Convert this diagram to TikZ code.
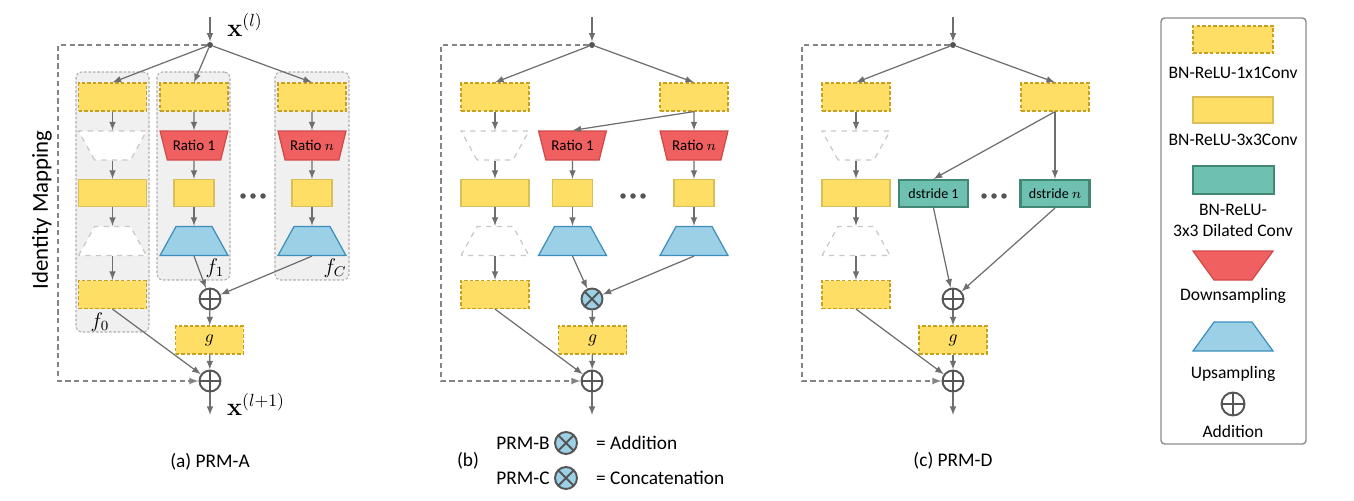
\documentclass[tikz,border=0pt]{standalone}
\usepackage[no-math]{fontspec}
\setmainfont{Carlito}
\usepackage{tikz}
\usetikzlibrary{arrows,shapes.geometric}
\tikzset{>=latex}
\definecolor{convyellow}{RGB}{255,222,102}
\definecolor{convdash}{RGB}{200,160,30}
\definecolor{convline}{RGB}{218,190,90}
\definecolor{downred}{RGB}{240,96,96}
\definecolor{downline}{RGB}{208,72,72}
\definecolor{upblue}{RGB}{155,208,230}
\definecolor{upline}{RGB}{62,142,188}
\definecolor{dilteal}{RGB}{110,192,176}
\definecolor{dilline}{RGB}{66,134,116}
\definecolor{grpfill}{RGB}{240,240,240}
\definecolor{grpline}{RGB}{175,175,175}
\definecolor{ghostline}{RGB}{200,200,200}
\definecolor{linkgray}{RGB}{110,110,110}
\definecolor{opgray}{RGB}{85,85,85}
\definecolor{keyline}{RGB}{140,140,140}
\tikzset{
  link/.style={linkgray, line width=0.7pt},
  idline/.style={linkgray!85, line width=0.8pt, dash pattern=on 3pt off 2pt},
  conv1/.style={draw=convdash, fill=convyellow, dash pattern=on 2pt off 1.2pt, line width=0.7pt, minimum width=1.36cm, minimum height=0.56cm, inner sep=0pt},
  conv3/.style={draw=convline, fill=convyellow, line width=0.7pt, minimum width=1.36cm, minimum height=0.54cm, inner sep=0pt},
  conv3s/.style={conv3, minimum width=0.8cm},
  dilconv/.style={draw=dilline, fill=dilteal, line width=1.2pt, minimum width=1.38cm, minimum height=0.54cm, inner sep=0pt, font=\fontsize{8}{10}\selectfont},
  trap/.style={trapezium, trapezium stretches=true, minimum width=1.36cm, minimum height=0.58cm, inner sep=1pt, line width=0.7pt, font=\fontsize{8.5}{10}\selectfont},
  downtrap/.style={trap, trapezium left angle=114, trapezium right angle=114, draw=downline, fill=downred},
  uptrap/.style={trap, trapezium left angle=66, trapezium right angle=66, draw=upline, fill=upblue},
  ghostdown/.style={downtrap, draw=ghostline, fill=white, dashed},
  ghostup/.style={uptrap, draw=ghostline, fill=white, dashed},
  grpbox/.style={draw=grpline, fill=grpfill, dash pattern=on 1.5pt off 1pt, rounded corners=3pt, line width=0.6pt},
  plusop/.style={circle, draw=opgray, line width=1.1pt, minimum size=0.42cm, inner sep=0pt,
    path picture={\draw[opgray, line width=1.1pt] (path picture bounding box.north) -- (path picture bounding box.south) (path picture bounding box.west) -- (path picture bounding box.east);}},
  timesop/.style={plusop, fill=upblue,
    path picture={\draw[opgray, line width=1.1pt] (path picture bounding box.north west) -- (path picture bounding box.south east) (path picture bounding box.south west) -- (path picture bounding box.north east);}},
  junc/.style={circle, fill=opgray, inner sep=0pt, minimum size=0.12cm},
  caption/.style={font=\fontsize{11}{13}\selectfont},
  keytext/.style={font=\fontsize{10}{12}\selectfont, align=center},
}
\begin{document}
\begin{tikzpicture}[>=latex, x=0.02cm, y=-0.02cm]
  \useasboundingbox (0,0) rectangle (1354,500);

  % groups of PRM-A
  \node at (112.5,202) [grpbox, minimum width=1.46cm, minimum height=5.2cm](g0){};
  \node at (193.5,176) [grpbox, minimum width=1.46cm, minimum height=4.16cm](g1){};
  \node at (312,176) [grpbox, minimum width=1.48cm, minimum height=4.16cm](gN){};
  \node at (100,322) {\large$f_0$};
  \node at (215,268) {\large$f_1$};
  \node at (335,268) {\large$f_C$};
  \node at (42,210) [rotate=90, font=\fontsize{13}{15}\selectfont]{Identity Mapping};

  % left branch, same in every panel
  \foreach \p/\x in {a/112.5, b/495, c/856}{
    \node at (\x,97) [conv1](\p 0a){};
    \node at (\x,145.5) [ghostdown](\p 0d){};
    \node at (\x,193) [conv3](\p 0b){};
    \node at (\x,241) [ghostup](\p 0u){};
    \node at (\x,294.5) [conv1](\p 0c){};
    \draw [->, link] (\p 0a) -- (\p 0d);
    \draw [->, link] (\p 0d) -- (\p 0b);
    \draw [->, link] (\p 0b) -- (\p 0u);
    \draw [->, link] (\p 0u) -- (\p 0c);
  }

  % pyramid branches
  \foreach \p/\x/\rt in {a1/194/1, aN/312/{$n$}, b1/572.5/1, bN/694/{$n$}}{
    \node at (\x,145.5) [downtrap](\p d){Ratio \rt};
    \node at (\x,193) [conv3s](\p b){};
    \node at (\x,241) [uptrap](\p u){};
    \draw [->, link] (\p d) -- (\p b);
    \draw [->, link] (\p b) -- (\p u);
  }
  \foreach \x in {253,633,994}
  \foreach \d in {-10,0,10}
  \fill [opgray] (\x+\d,196) circle (0.055cm);

  % (a) PRM-A
  \coordinate (ain) at (210,17);
  \coordinate (aend) at (210,415);
  \coordinate (aL) at (58,200);
  \node at (210,45) [junc](aj){};
  \node at (245,25) {\Large$\mathbf{x}^{(l)}$};
  \node at (194,97) [conv1](a1a){};
  \node at (312,97) [conv1](aNa){};
  \node at (210,299) [plusop](aadd){};
  \node at (209.5,340) [conv1](ag){$g$};
  \node at (210,381) [plusop](aout){};
  \node at (256,404) {\Large$\mathbf{x}^{(l+1)}$};
  \draw [->, link] (ain) -- (aj);
  \draw [->, link] (aj) -- (a0a.north);
  \draw [->, link] (aj) -- (a1a.north);
  \draw [->, link] (aj) -- (aNa.north);
  \draw [->, link] (a1a) -- (a1d);
  \draw [->, link] (aNa) -- (aNd);
  \draw [->, link] (a1u.south) -- (aadd);
  \draw [->, link] (aNu.south) -- (aadd);
  \draw [->, link] (aadd) -- (ag);
  \draw [->, link] (ag) -- (aout);
  \draw [->, link] (a0c.south) -- (aout);
  \draw [->, link] (aout) -- (aend);
  \draw [->, idline] (aj) -| (aL) |- (aout);
  \node at (210,462) [caption](acap){(a) PRM-A};

  % (b) PRM-B / PRM-C
  \coordinate (bin) at (592,17);
  \coordinate (bend) at (592,415);
  \coordinate (bL) at (441,200);
  \node at (592,45) [junc](bj){};
  \node at (694,97) [conv1](bR){};
  \node at (592,299) [timesop](bcat){};
  \node at (592.5,340) [conv1](bg){$g$};
  \node at (592,381) [plusop](bout){};
  \draw [->, link] (bin) -- (bj);
  \draw [->, link] (bj) -- (b0a.north);
  \draw [->, link] (bj) -- (bR.north);
  \draw [->, link] (bR.south) -- (b1d.north);
  \draw [->, link] (bR) -- (bNd);
  \draw [->, link] (b1u.south) -- (bcat);
  \draw [->, link] (bNu.south) -- (bcat);
  \draw [->, link] (bcat) -- (bg);
  \draw [->, link] (bg) -- (bout);
  \draw [->, link] (b0c.south) -- (bout);
  \draw [->, link] (bout) -- (bend);
  \draw [->, idline] (bj) -| (bL) |- (bout);
  \node at (468,461) [caption](bcap){(b)};
  \node at (523,443) [caption](bkB){PRM-B};
  \node at (566,443) [timesop, minimum size=0.44cm](bkBop){};
  \node at (590,443) [caption, anchor=west](bkBt){= Addition};
  \node at (523,478) [caption](bkC){PRM-C};
  \node at (566,478) [timesop, minimum size=0.44cm](bkCop){};
  \node at (590,478) [caption, anchor=west](bkCt){= Concatenation};

  % (c) PRM-D
  \coordinate (cin) at (953,17);
  \coordinate (cend) at (953,415);
  \coordinate (cL) at (802,200);
  \node at (953,45) [junc](cj){};
  \node at (1055,97) [conv1](cR){};
  \node at (933.5,193.5) [dilconv](cS1){dstride 1};
  \node at (1055,193.5) [dilconv](cSN){dstride $n$};
  \node at (953,299) [plusop](cadd){};
  \node at (953,340) [conv1](cg){$g$};
  \node at (953,381) [plusop](cout){};
  \draw [->, link] (cin) -- (cj);
  \draw [->, link] (cj) -- (c0a.north);
  \draw [->, link] (cj) -- (cR.north);
  \draw [->, link] (cR.south) -- (cS1.north);
  \draw [->, link] (cR) -- (cSN);
  \draw [->, link] (cS1.south) -- (cadd);
  \draw [->, link] (cSN.south) -- (cadd);
  \draw [->, link] (cadd) -- (cg);
  \draw [->, link] (cg) -- (cout);
  \draw [->, link] (c0c.south) -- (cout);
  \draw [->, link] (cout) -- (cend);
  \draw [->, idline] (cj) -| (cL) |- (cout);
  \node at (953,461) [caption](ccap){(c) PRM-D};

  % key
  \node at (1233.5,231) [draw=keyline, rounded corners=2pt, line width=0.8pt, minimum width=2.9cm, minimum height=8.52cm](key){};
  \node at (1233,39.5) [conv1, minimum width=1.6cm, minimum height=0.54cm](k1){};
  \node at (1233,73) [keytext](k1t){BN-ReLU-1x1Conv};
  \node at (1233,110) [conv3, minimum width=1.6cm, minimum height=0.52cm](k3){};
  \node at (1233,140) [keytext](k3t){BN-ReLU-3x3Conv};
  \node at (1233.5,180) [dilconv, minimum width=1.62cm, minimum height=0.56cm](kd){};
  \node at (1233,220.5) [keytext](kdt){BN-ReLU-\\3x3 Dilated Conv};
  \node at (1233,265.5) [downtrap, minimum width=1.6cm, trapezium left angle=119, trapezium right angle=119](kdn){};
  \node at (1233,296) [keytext](kdnt){Downsampling};
  \node at (1233,336.5) [uptrap, minimum width=1.6cm, trapezium left angle=61, trapezium right angle=61](kup){};
  \node at (1233,374) [keytext](kupt){Upsampling};
  \node at (1233,404) [plusop, minimum size=0.46cm](kadd){};
  \node at (1233,431) [keytext](kaddt){Addition};
\end{tikzpicture}
\end{document}
